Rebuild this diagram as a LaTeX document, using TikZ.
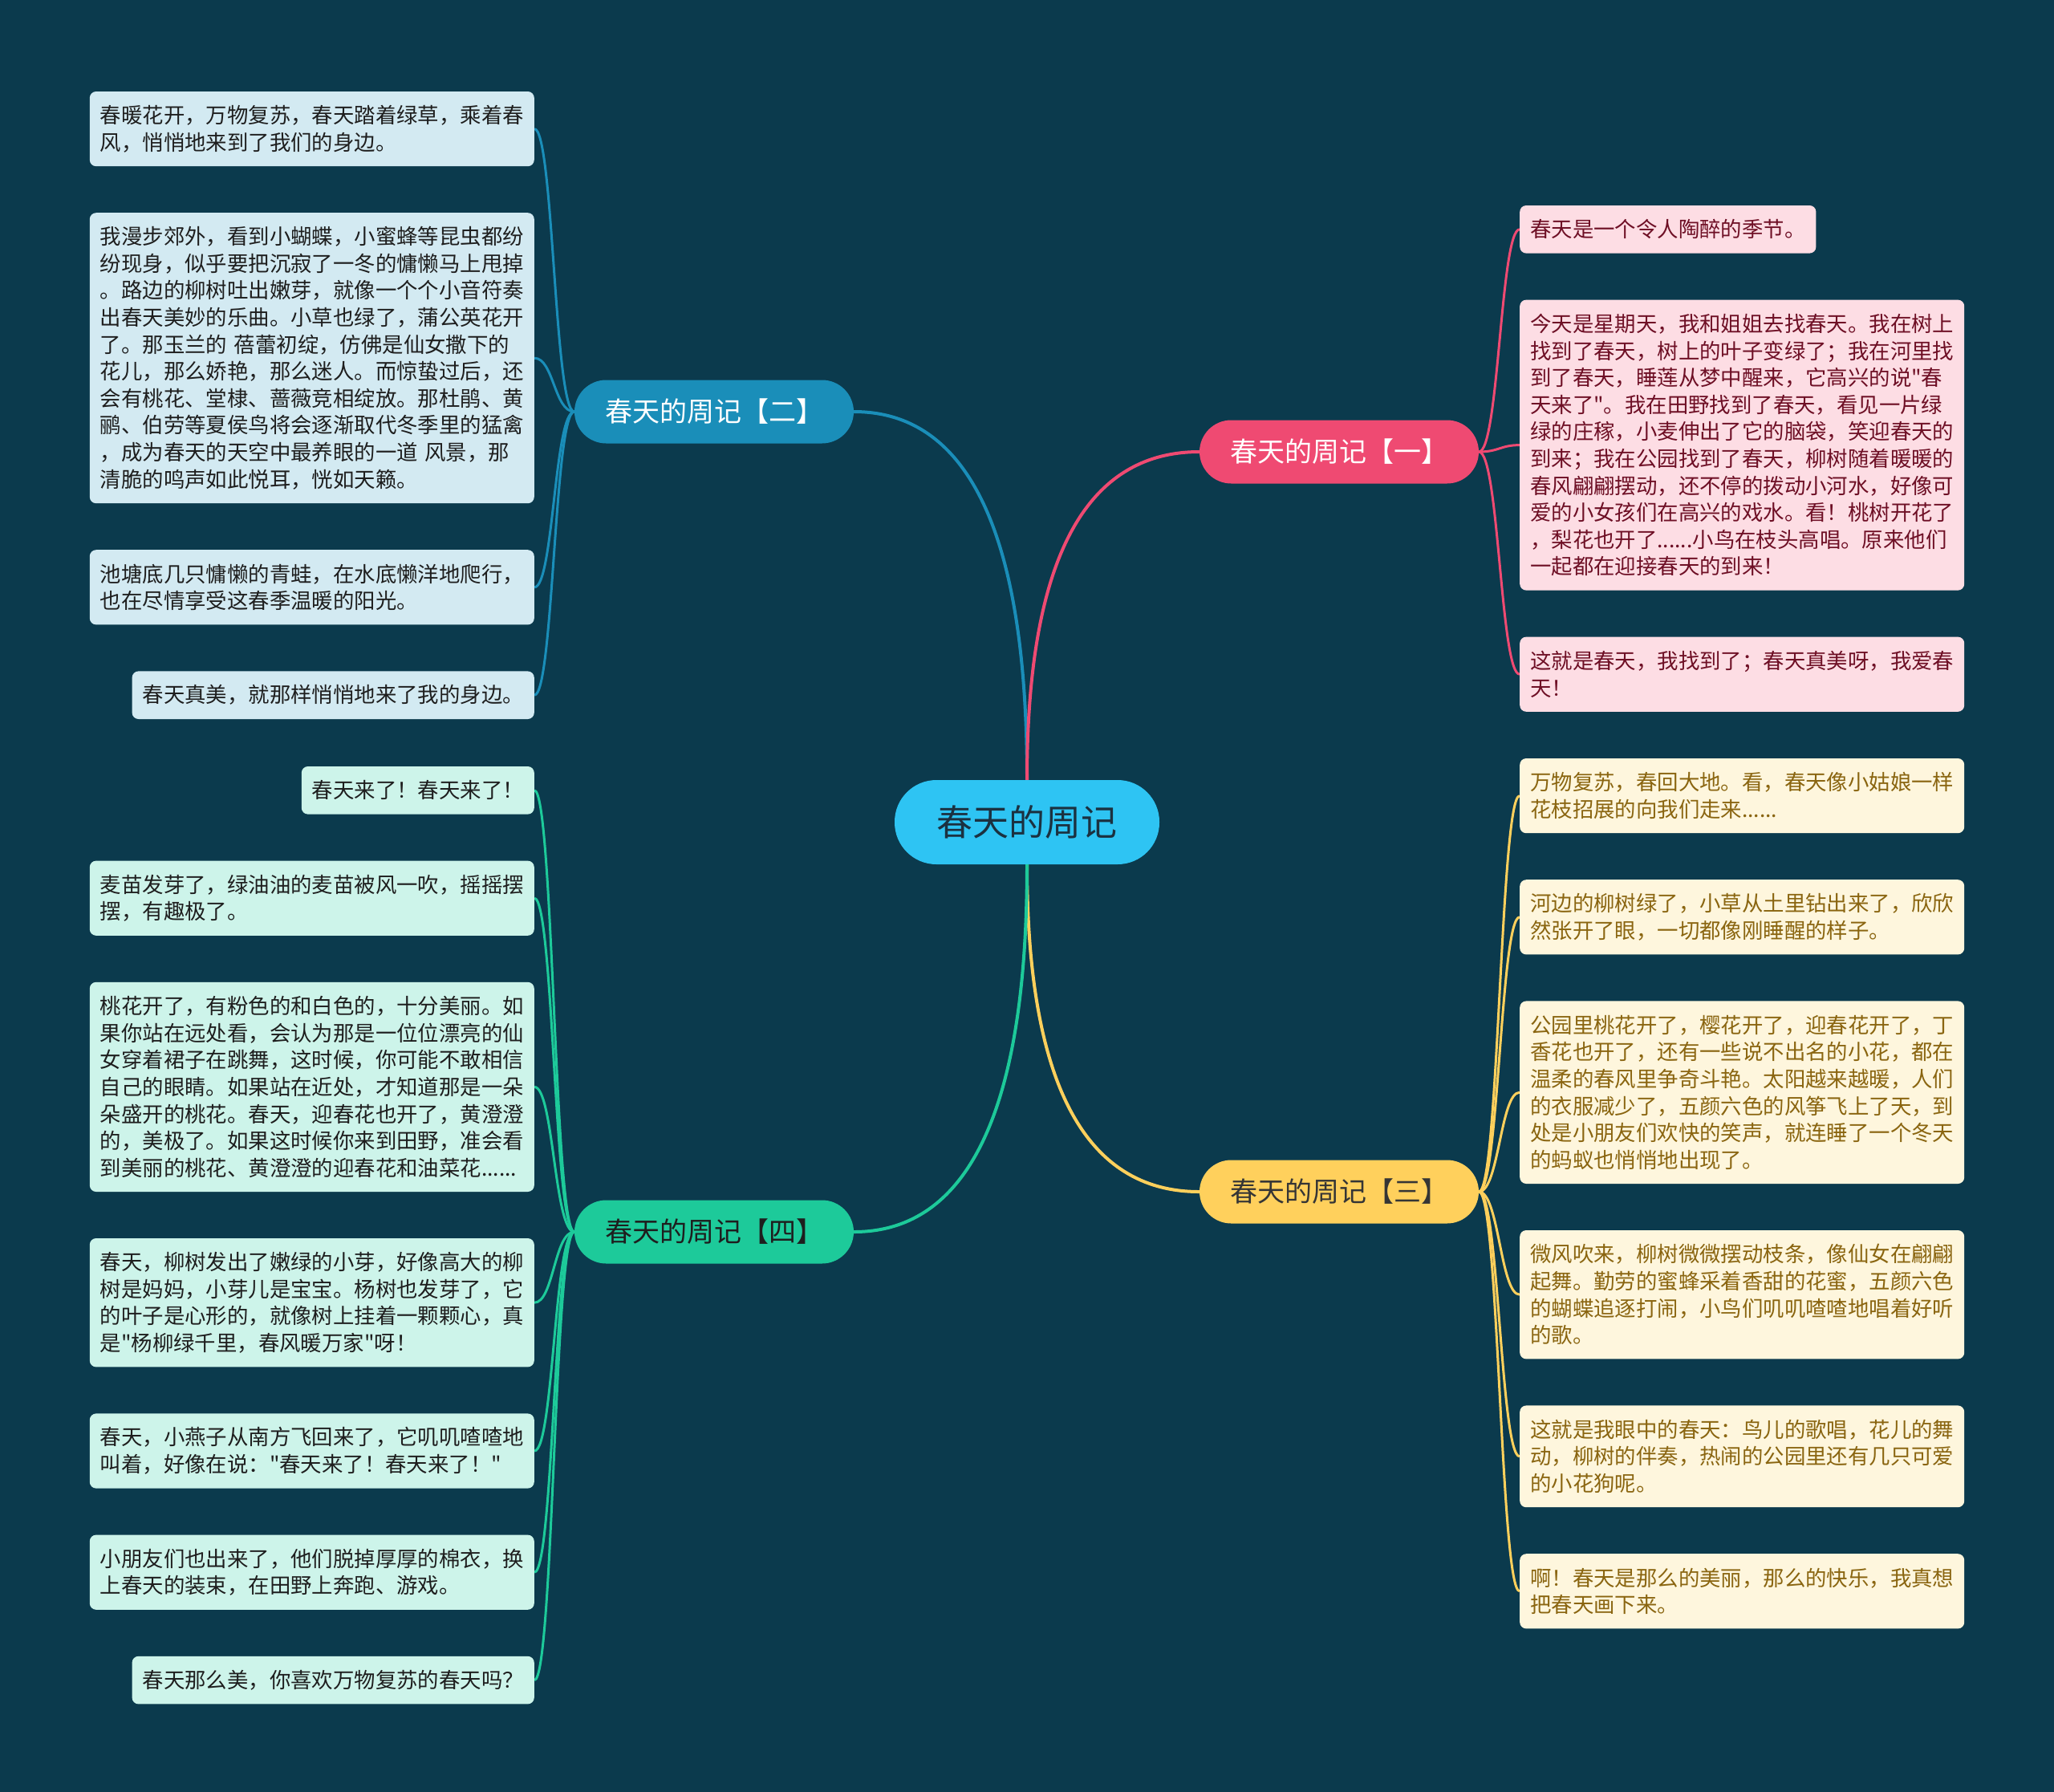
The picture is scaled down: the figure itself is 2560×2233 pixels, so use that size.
\documentclass[tikz,border=0pt]{standalone}
\usepackage{fontspec}
\newfontfamily\cjk{Noto Sans CJK SC}
\definecolor{bgc}{HTML}{0B3A4D}
\definecolor{cfill}{HTML}{2EC4F3}
\definecolor{ctext}{HTML}{1B3140}
\definecolor{bluec}{HTML}{1A8EB9}
\definecolor{pinkc}{HTML}{EF4A72}
\definecolor{yelc}{HTML}{FFD05C}
\definecolor{grnc}{HTML}{1DCA9A}
\definecolor{blueleaf}{HTML}{D3EAF2}
\definecolor{pinkleaf}{HTML}{FDDDE4}
\definecolor{yelleaf}{HTML}{FEF6DD}
\definecolor{grnleaf}{HTML}{CDF4EA}
\definecolor{pinktext}{HTML}{6E0F25}
\definecolor{yeltext}{HTML}{8A6510}
\definecolor{darktext}{HTML}{1E1E1E}
\pgfdeclarelayer{back}
\pgfdeclarelayer{bg}
\pgfsetlayers{back,bg,main}
\tikzset{
  leafbox/.style={rounded corners=8pt, inner xsep=13pt, inner ysep=0pt, align=left,
    font=\cjk\fontsize{26.4}{33.6}\selectfont},
  wide/.style={text width=528pt},
  nl/.style={minimum height=#1*33.6pt+26pt},
  lleaf/.style={leafbox, anchor=east},
  rleaf/.style={leafbox, anchor=west},
  blueleafbox/.style={fill=blueleaf, text=darktext},
  pinkleafbox/.style={fill=pinkleaf, text=pinktext},
  yelleafbox/.style={fill=yelleaf, text=yeltext},
  grnleafbox/.style={fill=grnleaf, text=darktext},
  branchbox/.style={rounded corners=39.5pt, minimum width=348pt, minimum height=79pt,
    inner sep=0pt, font=\cjk\fontsize{34}{40}\selectfont},
  centerbox/.style={rounded corners=52pt, minimum width=330pt, minimum height=105pt,
    inner sep=0pt, fill=cfill, text=ctext, font=\cjk\fontsize{45}{52}\selectfont},
  mainlink/.style={line width=4pt},
  leaflink/.style={line width=3pt},
}
\begin{document}
\begin{tikzpicture}[x=1pt,y=-1pt]
\begin{pgfonlayer}{back}
\fill[bgc] (0,0) rectangle (2560,2233);
\end{pgfonlayer}
\useasboundingbox (0,0) rectangle (2560,2233);

% center and branches
\node[centerbox] (c) at (1280,1024.5) {春天的周记};
\node[branchbox, fill=bluec, text=white] (b2) at (890,513) {春天的周记【二】};
\node[branchbox, fill=pinkc, text=white] (b1) at (1669,563) {春天的周记【一】};
\node[branchbox, fill=yelc, text=darktext!90] (b3) at (1669,1485) {春天的周记【三】};
\node[branchbox, fill=grnc, text=darktext] (b4) at (890,1535) {春天的周记【四】};

% blue leaves (left top)
\node[lleaf, blueleafbox, wide, nl=2] (l1) at (666,160.6) {春暖花开，万物复苏，春天踏着绿草，乘着春\\风，悄悄地来到了我们的身边。};
\node[lleaf, blueleafbox, wide, nl=10] (l2) at (666,446.2) {我漫步郊外，看到小蝴蝶，小蜜蜂等昆虫都纷\\纷现身，似乎要把沉寂了一冬的慵懒马上甩掉\\。路边的柳树吐出嫩芽，就像一个个小音符奏\\出春天美妙的乐曲。小草也绿了，蒲公英花开\\了。那玉兰的 蓓蕾初绽，仿佛是仙女撒下的\\花儿，那么娇艳，那么迷人。而惊蛰过后，还\\会有桃花、堂棣、蔷薇竞相绽放。那杜鹃、黄\\鹂、伯劳等夏侯鸟将会逐渐取代冬季里的猛禽\\，成为春天的天空中最养眼的一道 风景，那\\清脆的鸣声如此悦耳，恍如天籁。};
\node[lleaf, blueleafbox, wide, nl=2] (l3) at (666,731.8) {池塘底几只慵懒的青蛙，在水底懒洋地爬行，\\也在尽情享受这春季温暖的阳光。};
\node[lleaf, blueleafbox, nl=1] (l4) at (666,866.2) {春天真美，就那样悄悄地来了我的身边。};

% green leaves (left bottom)
\node[lleaf, grnleafbox, nl=1] (g1) at (666,984.8) {春天来了！春天来了！};
\node[lleaf, grnleafbox, wide, nl=2] (g2) at (666,1119.2) {麦苗发芽了，绿油油的麦苗被风一吹，摇摇摆\\摆，有趣极了。};
\node[lleaf, grnleafbox, wide, nl=7] (g3) at (666,1354.4) {桃花开了，有粉色的和白色的，十分美丽。如\\果你站在远处看，会认为那是一位位漂亮的仙\\女穿着裙子在跳舞，这时候，你可能不敢相信\\自己的眼睛。如果站在近处，才知道那是一朵\\朵盛开的桃花。春天，迎春花也开了，黄澄澄\\的，美极了。如果这时候你来到田野，准会看\\到美丽的桃花、黄澄澄的迎春花和油菜花......};
\node[lleaf, grnleafbox, wide, nl=4] (g4) at (666,1623.2) {春天，柳树发出了嫩绿的小芽，好像高大的柳\\树是妈妈，小芽儿是宝宝。杨树也发芽了，它\\的叶子是心形的，就像树上挂着一颗颗心，真\\是"杨柳绿千里，春风暖万家"呀！};
\node[lleaf, grnleafbox, wide, nl=2] (g5) at (666,1808) {春天，小燕子从南方飞回来了，它叽叽喳喳地\\叫着，好像在说："春天来了！春天来了！"};
\node[lleaf, grnleafbox, wide, nl=2] (g6) at (666,1959.2) {小朋友们也出来了，他们脱掉厚厚的棉衣，换\\上春天的装束，在田野上奔跑、游戏。};
\node[lleaf, grnleafbox, nl=1] (g7) at (666,2093.6) {春天那么美，你喜欢万物复苏的春天吗？};

% pink leaves (right top)
\node[rleaf, pinkleafbox, nl=1] (r1) at (1894,285.8) {春天是一个令人陶醉的季节。};
\node[rleaf, pinkleafbox, wide, nl=10] (r2) at (1894,554.6) {今天是星期天，我和姐姐去找春天。我在树上\\找到了春天，树上的叶子变绿了；我在河里找\\到了春天，睡莲从梦中醒来，它高兴的说"春\\天来了"。我在田野找到了春天，看见一片绿\\绿的庄稼，小麦伸出了它的脑袋，笑迎春天的\\到来；我在公园找到了春天，柳树随着暖暖的\\春风翩翩摆动，还不停的拨动小河水，好像可\\爱的小女孩们在高兴的戏水。看！桃树开花了\\，梨花也开了......小鸟在枝头高唱。原来他们\\一起都在迎接春天的到来！};
\node[rleaf, pinkleafbox, wide, nl=2] (r3) at (1894,840.2) {这就是春天，我找到了；春天真美呀，我爱春\\天！};

% yellow leaves (right bottom)
\node[rleaf, yelleafbox, wide, nl=2] (y1) at (1894,991.6) {万物复苏，春回大地。看，春天像小姑娘一样\\花枝招展的向我们走来......};
\node[rleaf, yelleafbox, wide, nl=2] (y2) at (1894,1142.8) {河边的柳树绿了，小草从土里钻出来了，欣欣\\然张开了眼，一切都像刚睡醒的样子。};
\node[rleaf, yelleafbox, wide, nl=6] (y3) at (1894,1361.2) {公园里桃花开了，樱花开了，迎春花开了，丁\\香花也开了，还有一些说不出名的小花，都在\\温柔的春风里争奇斗艳。太阳越来越暖，人们\\的衣服减少了，五颜六色的风筝飞上了天，到\\处是小朋友们欢快的笑声，就连睡了一个冬天\\的蚂蚁也悄悄地出现了。};
\node[rleaf, yelleafbox, wide, nl=4] (y4) at (1894,1613.2) {微风吹来，柳树微微摆动枝条，像仙女在翩翩\\起舞。勤劳的蜜蜂采着香甜的花蜜，五颜六色\\的蝴蝶追逐打闹，小鸟们叽叽喳喳地唱着好听\\的歌。};
\node[rleaf, yelleafbox, wide, nl=3] (y5) at (1894,1814.8) {这就是我眼中的春天：鸟儿的歌唱，花儿的舞\\动，柳树的伴奏，热闹的公园里还有几只可爱\\的小花狗呢。};
\node[rleaf, yelleafbox, wide, nl=2] (y6) at (1894,1982.8) {啊！春天是那么的美丽，那么的快乐，我真想\\把春天画下来。};

\begin{pgfonlayer}{bg}
  \draw[mainlink, bluec] (c.north) .. controls +(0,-306) and +(143,0) .. (b2.east);
  \draw[mainlink, pinkc] (c.north) .. controls +(0,-273) and +(-143,0) .. (b1.west);
  \draw[mainlink, yelc] (c.south) .. controls +(0,272) and +(-143,0) .. (b3.west);
  \draw[mainlink, grnc] (c.south) .. controls +(0,305) and +(143,0) .. (b4.east);
  \foreach \n in {l1,l2,l3,l4}
    \draw[leaflink, bluec] (b2.west) .. controls +(-25,0) and +(24,0) .. (\n.east);
  \foreach \n in {g1,g2,g3,g4,g5,g6,g7}
    \draw[leaflink, grnc] (b4.west) .. controls +(-25,0) and +(24,0) .. (\n.east);
  \foreach \n in {r1,r2,r3}
    \draw[leaflink, pinkc] (b1.east) .. controls +(25,0) and +(-24,0) .. (\n.west);
  \foreach \n in {y1,y2,y3,y4,y5,y6}
    \draw[leaflink, yelc] (b3.east) .. controls +(25,0) and +(-24,0) .. (\n.west);
\end{pgfonlayer}
\end{tikzpicture}
\end{document}
